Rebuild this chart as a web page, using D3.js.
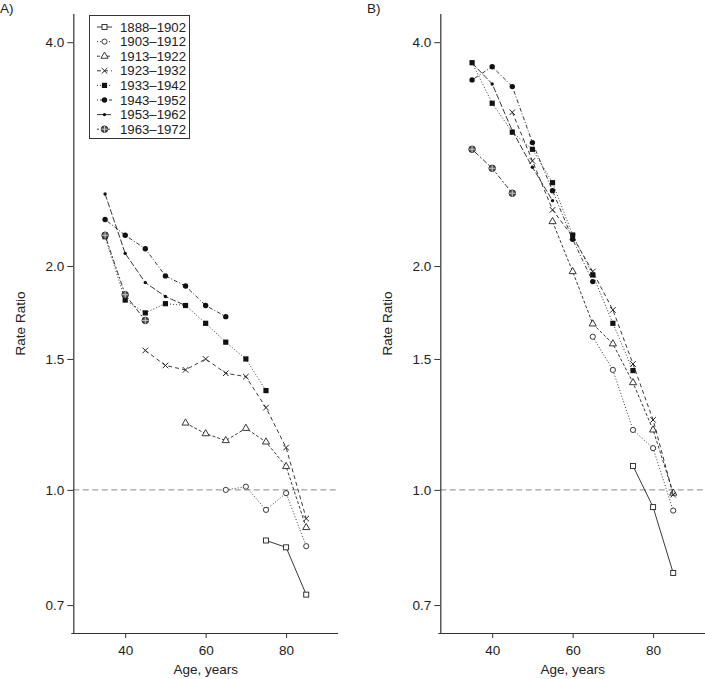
<!DOCTYPE html>
<html>
<head>
<meta charset="utf-8">
<script src="https://cdn.jsdelivr.net/npm/d3@7"></script>
<style>
    body { margin: 0; background: #fff; }
    svg { font-family: 'Liberation Sans', Arial, sans-serif; }
    text { fill: #222; }
</style>
</head>
<body>
<svg width="705" height="679"></svg>
<script>
(function() {
    const svg = d3.select('svg');

    const ages = [35, 40, 45, 50, 55, 60, 65, 70, 75, 80, 85];
    const cohorts = ['1888–1902', '1903–1912', '1913–1922', '1923–1932',
                     '1933–1942', '1943–1952', '1953–1962', '1963–1972'];
    const yTicks = [0.7, 1.0, 1.5, 2.0, 4.0];
    const xTicks = [40, 60, 80];

    // panel A, one value per age (null = not observed)
    const a1888 = [null, null, null, null, null, null, null, null, 0.855, 0.837, 0.723];
    const a1903 = [null, null, null, null, null, null, 1.00, 1.01, 0.94, 0.99, 0.84];
    const a1913 = [null, null, null, null, 1.23, 1.19, 1.165, 1.21, 1.16, 1.075, 0.89];
    const a1923 = [null, null, 1.54, 1.47, 1.45, 1.50, 1.435, 1.42, 1.29, 1.14, 0.915];
    const a1933 = [2.19, 1.80, 1.73, 1.78, 1.77, 1.675, 1.58, 1.50, 1.36, null, null];
    const a1943 = [2.31, 2.20, 2.11, 1.94, 1.88, 1.77, 1.71, null, null, null, null];
    const a1953 = [2.50, 2.08, 1.90, 1.82, 1.77, null, null, null, null, null, null];
    const a1963 = [2.20, 1.83, 1.69, null, null, null, null, null, null, null, null];

    // panel B
    const b1888 = [null, null, null, null, null, null, null, null, 1.077, 0.948, 0.773];
    const b1903 = [null, null, null, null, null, null, 1.607, 1.45, 1.204, 1.138, 0.938];
    const b1913 = [null, null, null, null, 2.295, 1.966, 1.672, 1.572, 1.394, 1.204, 0.99];
    const b1923 = [null, null, 3.22, 2.77, 2.38, 2.19, 1.966, 1.746, 1.477, 1.242, 0.985];
    const b1933 = [3.754, 3.311, 3.027, 2.871, 2.589, 2.202, 1.946, 1.675, 1.447, null, null];
    const b1943 = [3.559, 3.708, 3.486, 2.931, 2.526, 2.173, 1.906, null, null, null, null];
    const b1953 = [3.75, 3.515, 3.04, 2.716, 2.449, null, null, null, null, null, null];
    const b1963 = [2.871, 2.707, 2.506, null, null, null, null, null, null, null, null];

    const panelA = [a1888, a1903, a1913, a1923, a1933, a1943, a1953, a1963];
    const panelB = [b1888, b1903, b1913, b1923, b1933, b1943, b1953, b1963];

    // line dash + marker per cohort
    const dashes = ['none', '1,2', '3,2', '4,3', '1,2', '1,2,4,2', '6,2', '2,2,5,2'];
    const markers = ['square', 'circle', 'triangle', 'times', 'fsquare', 'fcircle', 'dot', 'cplus'];

    const FS = 13.5;
    const y = d3.scaleLog().domain([0.642, 4.365]).range([633, 14]);

    const drawMarker = (g, type, cx, cy) => {
        const m = g.append('g').attr('transform', `translate(${cx},${cy})`);
        if (type === 'square') {
            m.append('rect').attr('x', -2.5).attr('y', -2.5).attr('width', 5).attr('height', 5)
                .attr('fill', '#fff').attr('stroke', '#222').attr('stroke-width', 0.9);
        } else if (type === 'circle') {
            m.append('circle').attr('r', 2.6).attr('fill', '#fff').attr('stroke', '#222').attr('stroke-width', 0.9);
        } else if (type === 'triangle') {
            m.append('path').attr('d', d3.symbol(d3.symbolTriangle, 22)())
                .attr('fill', '#fff').attr('stroke', '#222').attr('stroke-width', 0.9);
        } else if (type === 'times') {
            m.append('path').attr('d', 'M-2.8,-2.8L2.8,2.8M-2.8,2.8L2.8,-2.8')
                .attr('stroke', '#222').attr('stroke-width', 1);
        } else if (type === 'fsquare') {
            m.append('rect').attr('x', -2.6).attr('y', -2.6).attr('width', 5.2).attr('height', 5.2).attr('fill', '#111');
        } else if (type === 'fcircle') {
            m.append('circle').attr('r', 2.7).attr('fill', '#111');
        } else if (type === 'dot') {
            m.append('circle').attr('r', 1.7).attr('fill', '#111');
        } else if (type === 'cplus') {
            m.append('circle').attr('r', 3.3).attr('fill', '#555').attr('stroke', '#222').attr('stroke-width', 0.9);
            m.append('path').attr('d', 'M-3.3,0H3.3M0,-3.3V3.3').attr('stroke', '#ddd').attr('stroke-width', 0.8);
        }
    };

    const drawPanel = (dx, series, label, xEnd) => {
        const g = svg.append('g').attr('transform', `translate(${dx},0)`);
        const x = d3.scaleLinear().domain([27.1, 92.9]).range([73.3, 338]);

        g.append('text').attr('x', 0).attr('y', 13).attr('font-size', FS).text(label);

        // reference line at 1.0
        g.append('line')
            .attr('x1', x.range()[0]).attr('x2', xEnd)
            .attr('y1', y(1)).attr('y2', y(1))
            .attr('stroke', '#888').attr('stroke-width', 1).attr('stroke-dasharray', '6,3.5');

        // axes
        const yAxis = d3.axisLeft(y).tickValues(yTicks).tickFormat(d3.format('.1f')).tickSize(6).tickPadding(3);
        const ya = g.append('g').attr('transform', `translate(${x.range()[0]},0)`).call(yAxis);
        const xAxis = d3.axisBottom(x).tickValues(xTicks).tickSize(5).tickPadding(7);
        const xa = g.append('g').attr('transform', 'translate(0,633)').call(xAxis);
        xa.select('.domain').attr('d', `M${x.range()[0] - 2},0.5H${xEnd}`);
        ya.select('.domain').attr('d', 'M0.5,14V633');
        [ya, xa].forEach(a => {
            a.selectAll('.domain').attr('stroke', '#333').attr('stroke-width', 1.2);
            a.selectAll('.tick line').attr('stroke', '#333');
            a.selectAll('.tick text').attr('font-size', FS).attr('fill', '#222')
                .attr('font-family', "'Liberation Sans', Arial, sans-serif");
        });

        g.append('text')
            .attr('transform', `translate(20,${(14 + 633) / 2}) rotate(-90)`)
            .attr('text-anchor', 'middle').attr('dominant-baseline', 'central')
            .attr('font-size', FS).text('Rate Ratio');
        g.append('text')
            .attr('x', (x.range()[0] + x.range()[1]) / 2).attr('y', 674)
            .attr('text-anchor', 'middle').attr('font-size', FS).text('Age, years');

        const line = d3.line()
            .defined(d => d.v != null)
            .x(d => x(d.age)).y(d => y(d.v));

        series.forEach((vals, i) => {
            const pts = ages.map((age, k) => ({ age: age, v: vals[k] }));
            g.append('path').datum(pts)
                .attr('d', line)
                .attr('fill', 'none').attr('stroke', '#222').attr('stroke-width', 0.9)
                .attr('stroke-dasharray', dashes[i]);
            pts.filter(p => p.v != null).forEach(p => drawMarker(g, markers[i], x(p.age), y(p.v)));
        });

        return g;
    };

    const gA = drawPanel(0, panelA, 'A)', 338);
    drawPanel(367, panelB, 'B)', 340);

    // legend (panel A only)
    const leg = gA.append('g');
    leg.append('rect').attr('x', 89.5).attr('y', 15.5).attr('width', 100).attr('height', 123)
        .attr('fill', '#fff').attr('stroke', '#333').attr('stroke-width', 1);
    cohorts.forEach((c, i) => {
        const ly = 27 + i * 14.6;
        leg.append('line').attr('x1', 97).attr('x2', 112).attr('y1', ly).attr('y2', ly)
            .attr('stroke', '#222').attr('stroke-width', 0.9).attr('stroke-dasharray', dashes[i]);
        drawMarker(leg, markers[i], 104.5, ly);
        leg.append('text').attr('x', 120).attr('y', ly).attr('dominant-baseline', 'central')
            .attr('font-size', 13.2).text(c);
    });
})();
</script>
</body>
</html>
